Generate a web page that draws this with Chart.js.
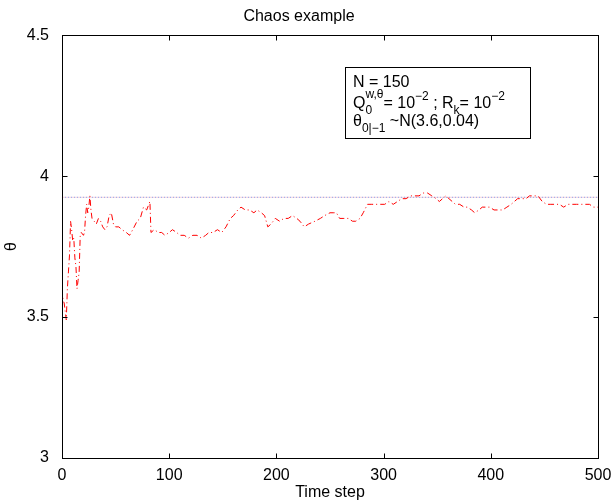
<!DOCTYPE html>
<html>
<head>
<meta charset="utf-8">
<script src="https://cdn.jsdelivr.net/npm/chart.js@4.4.1/dist/chart.umd.min.js"></script>
<style>
  body { margin: 0; background: #fff; }
  canvas { display: block; }
</style>
</head>
<body>
<canvas id="chaosChart" width="616" height="502"></canvas>
<script>
// time steps and estimated theta
const steps = [
  0, 1, 2, 3, 4, 5, 6, 7, 8, 9,
  10, 11, 12, 13, 14, 15, 16, 17, 18, 20,
  21, 22, 23, 24, 25, 26, 27, 28, 30, 32,
  34, 36, 38, 40, 42, 44, 46, 48, 50, 53,
  56, 60, 63, 66, 70, 73, 76, 79, 81, 82,
  83, 86, 90, 93, 96, 100, 103, 107, 110, 114,
  118, 122, 126, 130, 134, 137, 141, 145, 149, 153,
  157, 160, 164, 167, 171, 175, 179, 182, 186, 189,
  192, 195, 199, 203, 207, 211, 215, 219, 222, 226,
  230, 236, 241, 245, 250, 253, 256, 259, 263, 267,
  271, 274, 278, 281, 285, 289, 293, 297, 301, 305,
  309, 313, 317, 321, 325, 329, 333, 337, 341, 345,
  349, 352, 355, 358, 361, 364, 367, 371, 375, 378,
  382, 385, 389, 392, 395, 399, 403, 407, 411, 415,
  419, 422, 425, 429, 433, 436, 440, 444, 448, 452,
  456, 460, 464, 468, 472, 476, 480, 484, 488, 492,
  496, 500
];
const theta = [
  3.60, 3.56, 3.55, 3.52, 3.49, 3.60, 3.66, 3.72, 3.84, 3.81,
  3.77, 3.78, 3.71, 3.68, 3.60, 3.63, 3.66, 3.79, 3.80, 3.79,
  3.80, 3.86, 3.90, 3.87, 3.89, 3.93, 3.88, 3.85, 3.84, 3.83,
  3.85, 3.84, 3.82, 3.81, 3.82, 3.86, 3.87, 3.83, 3.82, 3.82,
  3.81, 3.80, 3.79, 3.81, 3.84, 3.85, 3.89, 3.88, 3.90, 3.91,
  3.80, 3.81, 3.80, 3.80, 3.79, 3.80, 3.81, 3.80, 3.79, 3.79,
  3.78, 3.79, 3.79, 3.78, 3.79, 3.80, 3.80, 3.81, 3.80, 3.82,
  3.85, 3.86, 3.88, 3.89, 3.88, 3.88, 3.87, 3.88, 3.87, 3.86,
  3.82, 3.83, 3.85, 3.84, 3.85, 3.85, 3.86, 3.85, 3.84, 3.82,
  3.83, 3.84, 3.85, 3.86, 3.87, 3.87, 3.87, 3.85, 3.85, 3.85,
  3.84, 3.84, 3.85, 3.87, 3.90, 3.90, 3.90, 3.90, 3.90, 3.91,
  3.90, 3.91, 3.92, 3.92, 3.93, 3.93, 3.93, 3.94, 3.94, 3.93,
  3.92, 3.91, 3.92, 3.93, 3.92, 3.91, 3.90, 3.90, 3.89, 3.89,
  3.88, 3.87, 3.88, 3.89, 3.89, 3.89, 3.88, 3.88, 3.88, 3.89,
  3.90, 3.91, 3.92, 3.92, 3.92, 3.93, 3.93, 3.93, 3.91, 3.90,
  3.90, 3.90, 3.90, 3.89, 3.90, 3.90, 3.90, 3.90, 3.90, 3.90,
  3.89, 3.89
];
const trueTheta = 3.925;
const xRange = [0, 500];
const yRange = [3, 4.5];

const FONT = "'Liberation Sans', Arial, Helvetica, sans-serif";

// draws a run of text pieces: [text, 'n' | 'sub' | 'sup' | 'both', extra]
function drawRich(ctx, x, y, parts) {
  const big = '16px ' + FONT;
  const small = '12px ' + FONT;
  parts.forEach(p => {
    const [txt, mode, extra] = p;
    if (mode === 'n') {
      ctx.font = big;
      ctx.fillText(txt, x, y);
      x += ctx.measureText(txt).width;
    } else if (mode === 'sub') {
      ctx.font = small;
      ctx.fillText(txt, x, y + 6);
      x += ctx.measureText(txt).width;
    } else if (mode === 'sup') {
      ctx.font = small;
      ctx.fillText(txt, x, y - 8);
      x += ctx.measureText(txt).width;
    } else if (mode === 'both') {
      ctx.font = small;
      ctx.fillText(txt, x, y + 6);
      ctx.fillText(extra, x, y - 10);
      x += Math.max(ctx.measureText(txt).width, ctx.measureText(extra).width);
    }
  });
}

// box round the axes, inward ticks on all sides, text box
const matlabAxes = {
  id: 'matlabAxes',
  afterDraw(chart) {
    const { ctx, chartArea: a, scales } = chart;
    const L = Math.round(a.left) + 0.5, R = Math.round(a.right) + 0.5;
    const T = Math.round(a.top) + 0.5, B = Math.round(a.bottom) + 0.5;
    ctx.save();
    ctx.strokeStyle = '#000';
    ctx.lineWidth = 1;
    ctx.strokeRect(L, T, R - L, B - T);
    ctx.beginPath();
    scales.x.ticks.forEach(t => {
      const px = Math.round(scales.x.getPixelForValue(t.value)) + 0.5;
      ctx.moveTo(px, B); ctx.lineTo(px, B - 5);
      ctx.moveTo(px, T); ctx.lineTo(px, T + 5);
    });
    scales.y.ticks.forEach(t => {
      const py = Math.round(scales.y.getPixelForValue(t.value)) + 0.5;
      ctx.moveTo(L, py); ctx.lineTo(L + 5, py);
      ctx.moveTo(R, py); ctx.lineTo(R - 5, py);
    });
    ctx.stroke();

    // annotation box
    ctx.fillStyle = '#fff';
    ctx.fillRect(345.5, 67.5, 185, 71);
    ctx.strokeRect(345.5, 67.5, 185, 71);
    ctx.fillStyle = '#000';
    ctx.textBaseline = 'alphabetic';
    ctx.textAlign = 'left';
    drawRich(ctx, 353, 87, [['N = 150', 'n']]);
    drawRich(ctx, 353, 108, [
      ['Q', 'n'], ['0', 'both', 'w,\u03b8'], ['= 10', 'n'], ['\u22122', 'sup'],
      [' ; R', 'n'], ['k', 'sub'], ['= 10', 'n'], ['\u22122', 'sup']
    ]);
    drawRich(ctx, 353, 126, [['\u03b8', 'n'], ['0|\u22121', 'sub'], [' ~N(3.6,0.04)', 'n']]);
    ctx.restore();
  }
};

const ctx = document.getElementById('chaosChart').getContext('2d');
new Chart(ctx, {
  type: 'scatter',
  data: {
    datasets: [
      {
        data: steps.map((s, i) => ({ x: s, y: theta[i] })),
        showLine: true,
        borderColor: '#ff0000',
        borderWidth: 1,
        borderDash: [6, 3, 1, 3],
        pointRadius: 0,
        tension: 0
      },
      {
        data: xRange.map(s => ({ x: s, y: trueTheta })),
        showLine: true,
        borderColor: '#8c9be6',
        borderWidth: 1,
        borderDash: [1, 2],
        pointRadius: 0
      },
      {
        data: xRange.map(s => ({ x: s, y: trueTheta })),
        showLine: true,
        borderColor: '#e8a8b8',
        borderWidth: 1,
        borderDash: [1, 2],
        borderDashOffset: 1.5,
        pointRadius: 0
      }
    ]
  },
  options: {
    responsive: false,
    animation: false,
    layout: { padding: { left: 0, right: 18, top: 0, bottom: 0 } },
    plugins: {
      legend: { display: false },
      tooltip: { enabled: false },
      title: {
        display: true,
        text: 'Chaos example',
        color: '#000',
        font: { family: FONT, size: 16, weight: 'normal' },
        padding: { top: 7, bottom: 9 }
      }
    },
    scales: {
      x: {
        type: 'linear',
        min: xRange[0],
        max: xRange[1],
        grid: { display: false },
        border: { display: false },
        ticks: { stepSize: 100, color: '#000', font: { family: FONT, size: 16 }, padding: 0, maxRotation: 0 },
        title: { display: true, text: 'Time step', color: '#000', font: { family: FONT, size: 16 }, padding: { top: 0, bottom: 0 } },
        afterFit: s => { s.height = 44; }
      },
      y: {
        min: yRange[0],
        max: yRange[1],
        grid: { display: false },
        border: { display: false },
        ticks: { stepSize: 0.5, color: '#000', font: { family: FONT, size: 16 }, padding: 5, callback: v => String(v) },
        title: { display: true, text: '\u03b8', color: '#000', font: { family: FONT, size: 16 }, padding: { top: 2, bottom: 0 } },
        afterFit: s => { s.width = 62; }
      }
    }
  },
  plugins: [matlabAxes]
});
</script>
</body>
</html>
